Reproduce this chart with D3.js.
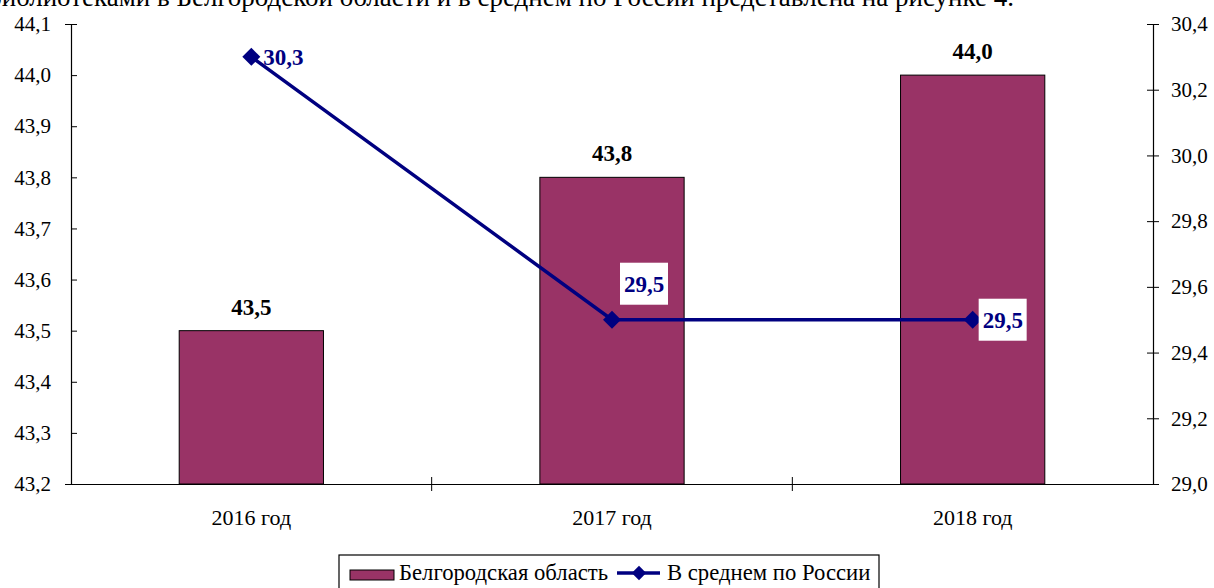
<!DOCTYPE html>
<meta charset="utf-8">
<style>
	body { margin: 0; background: #fff; }
	svg { display: block; font-family: "Liberation Serif", "Times New Roman", serif; }
</style>
<div id="chartBx"></div>
<script src="https://cdn.jsdelivr.net/npm/d3@7"></script>
<script>

	// data
	var years = ["2016 год", "2017 год", "2018 год"];
	var belgorod = [43.5, 43.8, 44.0];
	var russia = [30.3, 29.5, 29.5];
	var leftTicks = [43.2, 43.3, 43.4, 43.5, 43.6, 43.7, 43.8, 43.9, 44.0, 44.1];
	var rightTicks = [29.0, 29.2, 29.4, 29.6, 29.8, 30.0, 30.2, 30.4];
	var seriesNames = ["Белгородская область", "В среднем по России"];
	var topLine = "библиотеками в Белгородской области и в среднем по России представлена на рисунке 4.";

	var fmt = function(v) { return d3.format(".1f")(v).replace(".", ","); };

	makeChart("chartBx", 1214, 588);

	function makeChart(div_id, W, H) {
		var plot = {left: 71, right: 1153, top: 24, bottom: 484};

		var svg = d3.select("#" + div_id).append("svg")
			.attr("width", W)
			.attr("height", H);

		// cut text line from the page above
		svg.append("text")
			.attr("x", 1014).attr("y", 6)
			.attr("text-anchor", "end")
			.attr("font-size", 27)
			.text(topLine);

		var x = d3.scaleBand().domain(years).range([plot.left, plot.right]).padding(0);
		var yL = d3.scaleLinear().domain([43.2, 44.1]).range([plot.bottom, plot.top]);
		var yR = d3.scaleLinear().domain([29.0, 30.4]).range([plot.bottom, plot.top]);

		var barW = x.bandwidth() * 0.4;

		// bars
		svg.append("g").selectAll("rect")
			.data(belgorod)
			.enter().append("rect")
			.attr("x", function(d, i) { return x(years[i]) + (x.bandwidth() - barW) / 2; })
			.attr("y", function(d) { return yL(d); })
			.attr("width", barW)
			.attr("height", function(d) { return yL(43.2) - yL(d); })
			.attr("fill", "#993366")
			.attr("stroke", "#000")
			.attr("stroke-width", 1);

		// left axis
		var gL = svg.append("g")
			.attr("transform", "translate(" + plot.left + ",0)")
			.call(d3.axisLeft(yL).tickValues(leftTicks).tickFormat(fmt).tickSize(6).tickPadding(14));
		gL.selectAll(".tick line").attr("x2", 6);

		// right axis
		var gR = svg.append("g")
			.attr("transform", "translate(" + plot.right + ",0)")
			.call(d3.axisRight(yR).tickValues(rightTicks).tickFormat(fmt).tickSize(6).tickPadding(12));
		gR.selectAll(".tick line").attr("x2", -6).attr("x1", 6);

		// bottom axis: boundary ticks + category labels
		var gX = svg.append("g")
			.attr("transform", "translate(0," + plot.bottom + ")")
			.call(d3.axisBottom(x).tickSize(0).tickPadding(25));
		gX.selectAll(".tick text").attr("dy", "0.71em");
		var bounds = years.map(function(d) { return x(d); }).concat([plot.right]);
		gX.selectAll(".bound").data(bounds.slice(1, 3))
			.enter().append("line")
			.attr("x1", function(d) { return d; }).attr("x2", function(d) { return d; })
			.attr("y1", -7).attr("y2", 7)
			.attr("stroke", "#000");

		[gL, gR, gX].forEach(function(g) {
			g.selectAll("text").attr("font-family", "Liberation Serif").attr("font-size", 21).attr("fill", "#000");
			g.selectAll("path.domain").attr("stroke", "#000").attr("stroke-width", 1.2);
			g.selectAll("line").attr("stroke", "#000");
		});
		gX.selectAll(".tick text").attr("font-size", 22);

		// bar labels
		svg.append("g").selectAll("text")
			.data(belgorod)
			.enter().append("text")
			.attr("x", function(d, i) { return x(years[i]) + x.bandwidth() / 2; })
			.attr("y", function(d) { return yL(d) - 16; })
			.attr("text-anchor", "middle")
			.attr("font-weight", "bold")
			.attr("font-size", 23)
			.text(function(d) { return fmt(d); });

		// line series
		var cx = function(i) { return x(years[i]) + x.bandwidth() / 2; };
		var line = d3.line()
			.x(function(d, i) { return cx(i); })
			.y(function(d) { return yR(d); });

		svg.append("path")
			.datum(russia)
			.attr("d", line)
			.attr("fill", "none")
			.attr("stroke", "#000080")
			.attr("stroke-width", 3.5);

		var diamond = "M0,-9L9,0L0,9L-9,0Z";
		svg.append("g").selectAll("path")
			.data(russia)
			.enter().append("path")
			.attr("d", diamond)
			.attr("transform", function(d, i) { return "translate(" + cx(i) + "," + yR(d) + ")"; })
			.attr("fill", "#000080");

		// line labels (offset from the marker, with white box)
		var labOff = [{dx: 12, dy: 0, box: false}, {dx: 8, dy: -36, box: true}, {dx: 6, dy: 0, box: true}];
		var lab = svg.append("g").selectAll("g")
			.data(russia)
			.enter().append("g")
			.attr("transform", function(d, i) { return "translate(" + (cx(i) + labOff[i].dx) + "," + (yR(d) + labOff[i].dy) + ")"; });
		lab.filter(function(d, i) { return labOff[i].box; })
			.append("rect")
			.attr("x", 0).attr("y", -21)
			.attr("width", 48).attr("height", 42)
			.attr("fill", "#fff");
		lab.append("text")
			.attr("x", function(d, i) { return labOff[i].box ? 4 : 0; })
			.attr("dy", "0.35em")
			.attr("font-weight", "bold")
			.attr("font-size", 23)
			.attr("fill", "#000080")
			.text(function(d) { return fmt(d); });

		// legend
		var legend = svg.append("g").attr("transform", "translate(339,555)");
		legend.append("rect")
			.attr("width", 540).attr("height", 40)
			.attr("fill", "#fff").attr("stroke", "#000").attr("stroke-width", 1.2);
		legend.append("rect")
			.attr("x", 11).attr("y", 15).attr("width", 44).attr("height", 10)
			.attr("fill", "#993366").attr("stroke", "#000");
		legend.append("text")
			.attr("x", 60).attr("y", 25)
			.attr("font-size", 22.7)
			.text(seriesNames[0]);
		legend.append("line")
			.attr("x1", 278).attr("x2", 321).attr("y1", 18).attr("y2", 18)
			.attr("stroke", "#000080").attr("stroke-width", 3.5);
		legend.append("path")
			.attr("d", diamond)
			.attr("transform", "translate(300,18) scale(0.8)")
			.attr("fill", "#000080");
		legend.append("text")
			.attr("x", 328).attr("y", 25)
			.attr("font-size", 22.7)
			.text(seriesNames[1]);
	}

</script>
